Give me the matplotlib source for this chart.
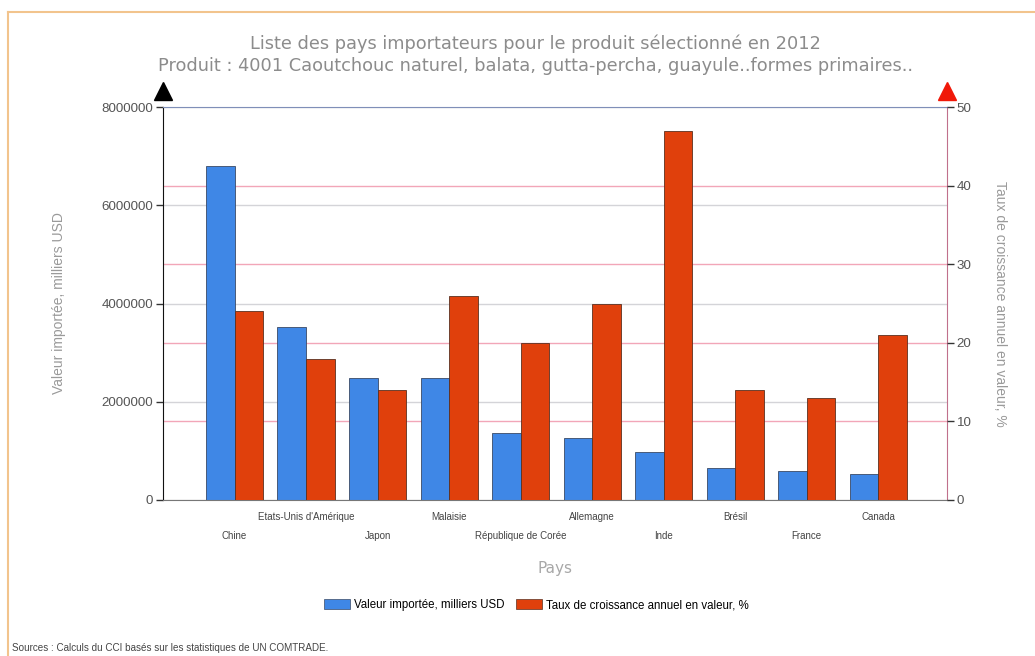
import numpy as np
import matplotlib
matplotlib.use('Agg')
import matplotlib.pyplot as plt
from matplotlib.lines import Line2D
from matplotlib.patches import Patch
from matplotlib.transforms import blended_transform_factory

# Importers of product 4001 (natural rubber), 2012
pays = ['Chine', "Etats-Unis d'Amérique", 'Japon', 'Malaisie', 'République de Corée',
        'Allemagne', 'Inde', 'Brésil', 'France', 'Canada']
valeur = [6800000, 3520000, 2490000, 2490000, 1370000, 1260000, 970000, 650000, 600000, 530000]
croissance = [24, 18, 14, 26, 20, 25, 47, 14, 13, 21]

bleu = '#3F87E6'
rouge = '#E0400C'
gris_txt = '#9A9A9A'

plt.rcParams['font.family'] = ['Liberation Sans', 'DejaVu Sans']

fig = plt.figure(figsize=(10.35, 6.56), dpi=100)
ax1 = fig.add_axes([163/1035, 1 - 500/656, (947 - 163)/1035, (500 - 107)/656])
ax2 = ax1.twinx()

x = np.arange(len(pays))
w = 0.40

# grids: grey for the left scale, pink for the right scale, both under the bars
ax1.set_yticks([0, 2000000, 4000000, 6000000, 8000000])
ax1.yaxis.grid(True, color='#D4D4D8', lw=1)
ax1.set_axisbelow(True)
trans = blended_transform_factory(ax1.transAxes, ax2.transData)
ax2.set_ylim(0, 50)
for v in [10, 20, 30, 40]:
    ax1.plot([0, 1], [v, v], transform=trans, color='#F2A6B8', lw=1, zorder=0.5)

ax1.bar(x - w/2, valeur, w, color=bleu, edgecolor='#3A4A66', lw=0.6, zorder=2)
ax2.bar(x + w/2, croissance, w, color=rouge, edgecolor='#5A3020', lw=0.6, zorder=2)

ax1.set_xlim(-1.0, 9.96)
ax1.set_ylim(0, 8000000)
ax2.set_yticks([0, 10, 20, 30, 40, 50])

ax1.ticklabel_format(axis='y', style='plain')
ax1.tick_params(axis='y', length=5, width=1, colors='#333333', labelsize=9.6, labelcolor='#555555', pad=2)
ax2.tick_params(axis='y', length=5, width=1, colors='#333333', labelsize=9.6, labelcolor='#555555', pad=2)

# staggered country names
ax1.set_xticks(x[1::2])
ax1.set_xticklabels(pays[1::2])
ax1.set_xticks(x[0::2], minor=True)
ax1.set_xticklabels(pays[0::2], minor=True)
ax1.tick_params(axis='x', which='major', length=0, pad=9, labelsize=7, labelcolor='#444444')
ax1.tick_params(axis='x', which='minor', length=0, pad=22, labelsize=7, labelcolor='#444444')

for sp in ['left', 'right', 'top', 'bottom']:
    ax2.spines[sp].set_visible(False)
ax1.spines['left'].set_color('#111111')
ax1.spines['bottom'].set_color('#777777')
ax1.spines['top'].set_color('#7F8FB8')
ax1.spines['right'].set_color('#C0708C')

# arrow heads on the two value axes
ax1.plot(0, 1.04, marker='^', color='black', markersize=13, transform=ax1.transAxes, clip_on=False)
ax1.plot(1, 1.04, marker='^', color='#F01808', markersize=13, transform=ax1.transAxes, clip_on=False)

ax1.set_ylabel('Valeur importée, milliers USD', color=gris_txt, fontsize=10)
ax2.set_ylabel('Taux de croissance annuel en valeur, %', color=gris_txt, fontsize=10, rotation=270)
ax1.yaxis.set_label_coords(-0.1235, 0.5)
ax2.yaxis.set_label_coords(1.077, 0.5)

fig.text(535/1035, 1 - 44/656, 'Liste des pays importateurs pour le produit sélectionné en 2012',
         ha='center', va='center', fontsize=12.8, color='#8C8C8C', family='DejaVu Sans')
fig.text(535/1035, 1 - 66/656,
         'Produit : 4001 Caoutchouc naturel, balata, gutta-percha, guayule..formes primaires..',
         ha='center', va='center', fontsize=12.8, color='#8C8C8C', family='DejaVu Sans')
fig.text(555/1035, 1 - 568/656, 'Pays', ha='center', va='center', fontsize=11,
         color='#A8A8A8', family='DejaVu Sans')

handles = [Patch(facecolor=bleu, edgecolor='#3A4A66', lw=0.5),
           Patch(facecolor=rouge, edgecolor='#5A3020', lw=0.5)]
fig.legend(handles, ['Valeur importée, milliers USD', 'Taux de croissance annuel en valeur, %'],
           loc='center', bbox_to_anchor=(536/1035, 1 - 605/656), ncol=2, frameon=False,
           fontsize=8.3, handlelength=2.3, handleheight=0.9, handletextpad=0.3, columnspacing=1.0)

fig.text(12/1035, 1 - 648/656, 'Sources : Calculs du CCI basés sur les statistiques de UN COMTRADE.',
         ha='left', va='center', fontsize=7.1, color='#444444')

# outer frame
frame = '#F2C48D'
fig.add_artist(Line2D([8/1035, 1], [1 - 12/656, 1 - 12/656], color=frame, lw=1.5))
fig.add_artist(Line2D([8/1035, 8/1035], [0, 1 - 12/656], color=frame, lw=1.5))

fig.savefig('out.png', dpi=100)
